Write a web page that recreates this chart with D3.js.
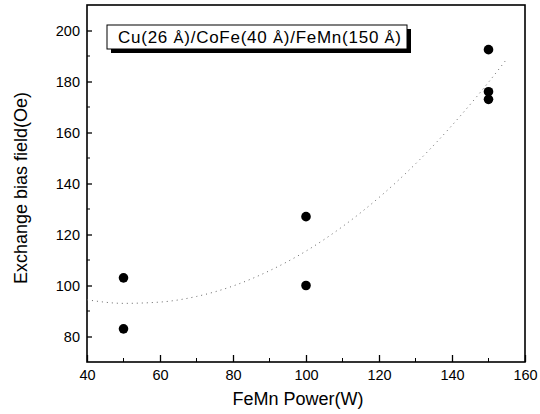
<!DOCTYPE html>
<html>
<head>
<meta charset="utf-8">
<script src="https://cdn.jsdelivr.net/npm/d3@7"></script>
<style>
  body { margin: 0; background: #fff; }
  svg { display: block; font-family: "Liberation Sans", Arial, sans-serif; }
</style>
</head>
<body>
<div id="chart"></div>
<script>
// measured points
const powerX = [50, 50, 100, 100, 150, 150, 150];
const biasY = [103, 83, 127, 100, 192.5, 176, 173];

// dotted fit curve
const fitX = [40, 50, 60, 70, 80, 90, 100, 110, 120, 130, 140, 150, 155];
const fitY = [94.4, 93, 93.5, 95.7, 99.8, 105.8, 113.5, 123.1, 134.5, 147.7, 162.8, 179.7, 188.8];

const xTicks = [40, 60, 80, 100, 120, 140, 160];
const yTicks = [80, 100, 120, 140, 160, 180, 200];

const W = 540, H = 414;
const plot = { left: 87, right: 525, top: 5, bottom: 362 };

const svg = d3.select("#chart").append("svg")
  .attr("width", W)
  .attr("height", H);

const x = d3.scaleLinear().domain([40, 160]).range([plot.left, plot.right]);
const y = d3.scaleLinear().domain([70, 210]).range([plot.bottom, plot.top]);

// frame
svg.append("rect")
  .attr("x", plot.left)
  .attr("y", plot.top)
  .attr("width", plot.right - plot.left)
  .attr("height", plot.bottom - plot.top)
  .attr("fill", "none")
  .attr("stroke", "#000")
  .attr("stroke-width", 1.6);

// x axis, ticks inward
const xAxis = svg.append("g")
  .attr("transform", `translate(0,${plot.bottom})`)
  .call(d3.axisBottom(x).tickValues(xTicks).tickSizeInner(-7).tickSizeOuter(0).tickPadding(8));
xAxis.select(".domain").remove();
xAxis.selectAll("line").attr("stroke-width", 1.3);
xAxis.selectAll("text").style("font-size", "14.5px").attr("fill", "#000");

svg.append("g")
  .selectAll("line")
  .data(d3.range(50, 160, 20))
  .join("line")
  .attr("x1", d => x(d)).attr("x2", d => x(d))
  .attr("y1", plot.bottom).attr("y2", plot.bottom - 4)
  .attr("stroke", "#000");

// y axis, ticks inward
const yAxis = svg.append("g")
  .attr("transform", `translate(${plot.left},0)`)
  .call(d3.axisLeft(y).tickValues(yTicks).tickSizeInner(-5).tickSizeOuter(0).tickPadding(7));
yAxis.select(".domain").remove();
yAxis.selectAll("line").attr("stroke-width", 1.3);
yAxis.selectAll("text").style("font-size", "14.5px").attr("fill", "#000");

svg.append("g")
  .selectAll("line")
  .data(d3.range(90, 210, 20))
  .join("line")
  .attr("x1", plot.left).attr("x2", plot.left + 3)
  .attr("y1", d => y(d)).attr("y2", d => y(d))
  .attr("stroke", "#000");

// fit curve
svg.append("path")
  .datum(fitX.map((d, i) => [d, fitY[i]]))
  .attr("d", d3.line().x(d => x(d[0])).y(d => y(d[1])).curve(d3.curveMonotoneX))
  .attr("fill", "none")
  .attr("stroke", "#666")
  .attr("stroke-width", 1)
  .attr("stroke-dasharray", "1,4");

// points
svg.append("g")
  .selectAll("circle")
  .data(powerX.map((d, i) => [d, biasY[i]]))
  .join("circle")
  .attr("cx", d => x(d[0]))
  .attr("cy", d => y(d[1]))
  .attr("r", 4.8)
  .attr("fill", "#000");

// legend box with shadow
const box = { x: 107, y: 25, w: 300, h: 24 };
svg.append("rect")
  .attr("x", box.x + 4).attr("y", box.y + 4)
  .attr("width", box.w).attr("height", box.h)
  .attr("fill", "#000");
svg.append("rect")
  .attr("x", box.x).attr("y", box.y)
  .attr("width", box.w).attr("height", box.h)
  .attr("fill", "#fff")
  .attr("stroke", "#000")
  .attr("stroke-width", 1);

const label = svg.append("text")
  .attr("x", box.x + 11)
  .attr("y", box.y + 18)
  .attr("textLength", 283)
  .attr("lengthAdjust", "spacing")
  .style("font-size", "17px")
  .attr("fill", "#000");
const parts = [["Cu(26 ", false], ["Å", true], [")/CoFe(40 ", false], ["Å", true], [")/FeMn(150 ", false], ["Å", true], [")", false]];
parts.forEach(p => {
  label.append("tspan")
    .style("font-size", p[1] ? "15px" : "17px")
    .text(p[0]);
});

// axis titles
svg.append("text")
  .attr("x", 298)
  .attr("y", 405)
  .attr("text-anchor", "middle")
  .style("font-size", "18px")
  .text("FeMn Power(W)");

svg.append("text")
  .attr("transform", "translate(27,188) rotate(-90)")
  .attr("text-anchor", "middle")
  .style("font-size", "18px")
  .text("Exchange bias field(Oe)");
</script>
</body>
</html>
